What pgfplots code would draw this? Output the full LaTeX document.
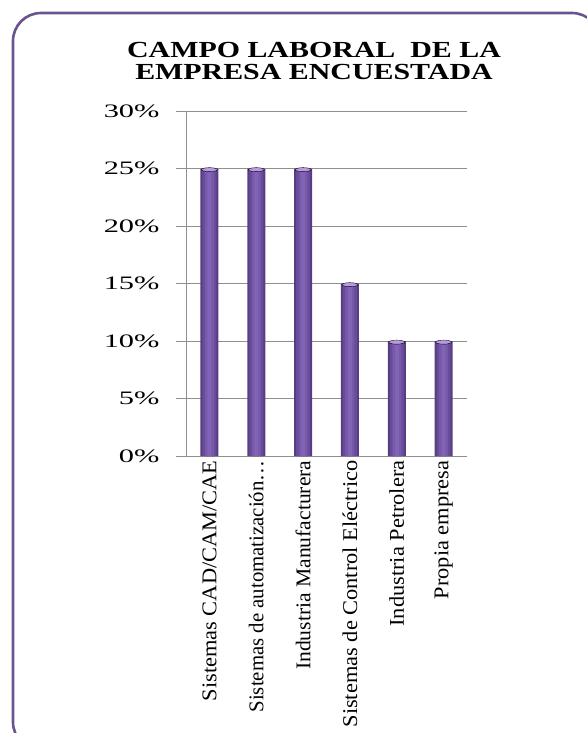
\documentclass[border=0pt]{standalone}
\usepackage{pgfplots}
\pgfplotsset{compat=1.18}
\usepackage{fontspec}
\setmainfont{Liberation Serif}
\usepackage{graphicx}
\definecolor{frame}{HTML}{6A5490}
\definecolor{barA}{HTML}{573D83}
\definecolor{barB}{HTML}{684C99}
\definecolor{barC}{HTML}{7759AA}
\definecolor{barD}{HTML}{8264B6}
\definecolor{barcap}{HTML}{C9A9F2}
\definecolor{gridc}{HTML}{8F8F8F}
\newcommand{\TL}[1]{\scalebox{1.6}[1]{#1}}
\newcommand{\XL}[1]{\scalebox{1.12}[1.05]{#1}}
\begin{document}
\begin{tikzpicture}[x=1bp,y=1bp]
\useasboundingbox (0,0) rectangle (587,-733);
\draw[frame, line width=2.6bp, rounded corners=28bp] (13,-13) rectangle (600,-750);
\node[anchor=base, font=\bfseries\fontsize{23bp}{26bp}\selectfont] at (314,-58) {\scalebox{1.3}[1]{CAMPO LABORAL\ \ DE LA}};
\node[anchor=base, font=\bfseries\fontsize{23bp}{26bp}\selectfont] at (314,-80) {\scalebox{1.3}[1]{EMPRESA ENCUESTADA}};
\begin{axis}[
  at={(186bp,-456bp)}, anchor=south west,
  scale only axis, width=281bp, height=345bp,
  xmin=-0.5, xmax=5.5, ymin=0, ymax=30,
  axis lines=left, axis line style={-, gridc, line width=0.8bp},
  ymajorgrids, grid style={gridc, line width=0.7bp},
  ytick={0,5,...,30},
  yticklabels={\TL{0\%},\TL{5\%},\TL{10\%},\TL{15\%},\TL{20\%},\TL{25\%},\TL{30\%}},
  yticklabel style={font=\fontsize{19bp}{22bp}\selectfont, xshift=-13bp},
  ytick style={gridc, line width=0.7bp},
  tick align=outside, major tick length=10bp,
  xtick={0,...,5},
  xticklabels={\XL{Sistemas CAD/CAM/CAE},\scalebox{1.04}[1.05]{Sistemas de automatización…},\scalebox{1.08}[1.05]{Industria Manufacturera},\XL{Sistemas de Control Eléctrico},\XL{Industria Petrolera},\XL{Propia empresa}},
  x tick label style={rotate=90, anchor=east, font=\fontsize{20bp}{22bp}\selectfont, xshift=9bp},
  x tick style={draw=none},
  extra x ticks={0.5,1.5,2.5,3.5,4.5,5.5},
  extra x tick labels={},
  extra x tick style={major tick length=7bp, tick style={gridc, line width=0.7bp, draw=gridc}, grid=none},
  clip=false,
]
\addplot[ybar, bar shift=0pt, bar width=18bp, draw=none, fill=barA] coordinates {(0,25) (1,25) (2,25) (3,15) (4,10) (5,10)};
\addplot[ybar, bar shift=0pt, bar width=14bp, draw=none, fill=barB] coordinates {(0,25) (1,25) (2,25) (3,15) (4,10) (5,10)};
\addplot[ybar, bar shift=0pt, bar width=9bp, draw=none, fill=barC] coordinates {(0,25) (1,25) (2,25) (3,15) (4,10) (5,10)};
\addplot[ybar, bar shift=0pt, bar width=4bp, draw=none, fill=barD] coordinates {(0,25) (1,25) (2,25) (3,15) (4,10) (5,10)};
\addplot[only marks, mark=*, mark size=8bp, mark options={yscale=0.25, fill=barcap, draw=none, fill opacity=0.8}] coordinates {(0,24.9) (1,24.9) (2,24.9) (3,14.9) (4,9.9) (5,9.9)};
\end{axis}
\end{tikzpicture}
\end{document}
